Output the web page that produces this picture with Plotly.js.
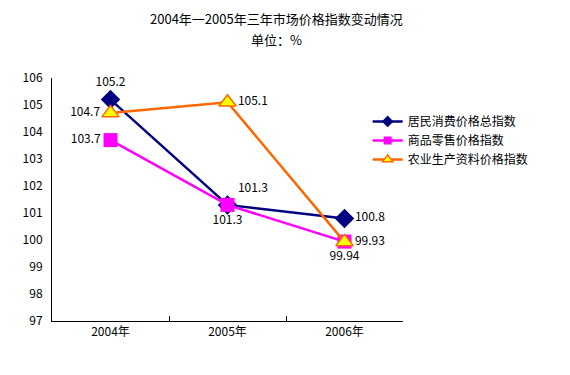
<!DOCTYPE html>
<html><head><meta charset="utf-8">
<script src="https://cdn.plot.ly/plotly-3.0.1.min.js"></script>
<style>body{margin:0;background:#fff}#c{width:570px;height:375px}</style>
</head><body><div id="c"></div>
<script>
const categories = ["2004年", "2005年", "2006年"];
const cpi = [105.2, 101.3, 100.8];
const retail = [103.7, 101.3, 99.94];
const agri = [104.7, 105.1, 99.93];
const seriesNames = ["居民消费价格总指数", "商品零售价格指数", "农业生产资料价格指数"];
const yTicks = [97, 98, 99, 100, 101, 102, 103, 104, 105, 106];

const F = "SimSun, 'Noto Sans CJK SC', sans-serif";
const lbl = {family: F, size: 12, color: "#000"};

const styles = [
  {line: {color: "#000080", width: 2.5}, marker: {symbol: "diamond", color: "#000080"}, size: 15, lsize: 9},
  {line: {color: "#FF00FF", width: 2.5}, marker: {symbol: "square", color: "#FF00FF"}, size: 14, lsize: 8},
  {line: {color: "#FF6600", width: 2.5}, marker: {symbol: "triangle-up", color: "#FFFF00", line: {color: "#FF6600", width: 1.5}}, size: 15, lsize: 9}
];
const series = [cpi, retail, agri];
const positions = [
  ["top center", "top right", "middle right"],
  ["middle left", "bottom center", "bottom center"],
  ["middle left", "middle right", "middle right"]
];

const traces = [];
series.forEach((vals, i) => {
  traces.push({x: categories, y: vals, name: seriesNames[i], mode: "lines+markers+text", showlegend: false,
    line: styles[i].line, marker: Object.assign({size: styles[i].size}, styles[i].marker),
    text: vals.map(String), textposition: positions[i], textfont: lbl, cliponaxis: false});
});
series.forEach((vals, i) => {
  traces.push({x: [null], y: [null], name: seriesNames[i], mode: "lines+markers", showlegend: true,
    line: {color: styles[i].line.color, width: 2.5},
    marker: Object.assign({}, styles[i].marker, {size: styles[i].lsize})});
});

const layout = {
  width: 570, height: 375,
  margin: {l: 52, r: 167, t: 78, b: 54, autoexpand: false},
  paper_bgcolor: "#fff", plot_bgcolor: "#fff",
  font: {family: F, size: 12, color: "#000"},
  annotations: [
    {text: "2004年一2005年三年市场价格指数变动情况", xref: "paper", yref: "paper", x: 0.641, y: 1.245,
     xanchor: "center", yanchor: "middle", showarrow: false, font: {family: F, size: 13, color: "#000"}},
    {text: "单位：%", xref: "paper", yref: "paper", x: 0.641, y: 1.158,
     xanchor: "center", yanchor: "middle", showarrow: false, font: {family: F, size: 13, color: "#000"}}
  ],
  xaxis: {type: "category", tickson: "boundaries", ticks: "inside", ticklen: 5, tickcolor: "#000",
          showline: true, linecolor: "#000", linewidth: 1, showgrid: false, zeroline: false,
          tickfont: {family: F, size: 12}, range: [-0.5, 2.5], fixedrange: true},
  yaxis: {range: [97, 106], tickvals: yTicks, ticktext: yTicks.map(String), ticks: "",
          showline: true, linecolor: "#000", linewidth: 1, showgrid: false, zeroline: false,
          tickfont: {family: F, size: 12}, ticklabelstandoff: 6},
  showlegend: true,
  legend: {xref: "container", yref: "container", x: 0.645, xanchor: "left", y: 0.715, yanchor: "top",
           font: {family: F, size: 12, color: "#000"}, tracegroupgap: 0, itemwidth: 30,
           bgcolor: "rgba(0,0,0,0)"}
};

Plotly.newPlot("c", traces, layout, {displayModeBar: false, staticPlot: true});
</script></body></html>
